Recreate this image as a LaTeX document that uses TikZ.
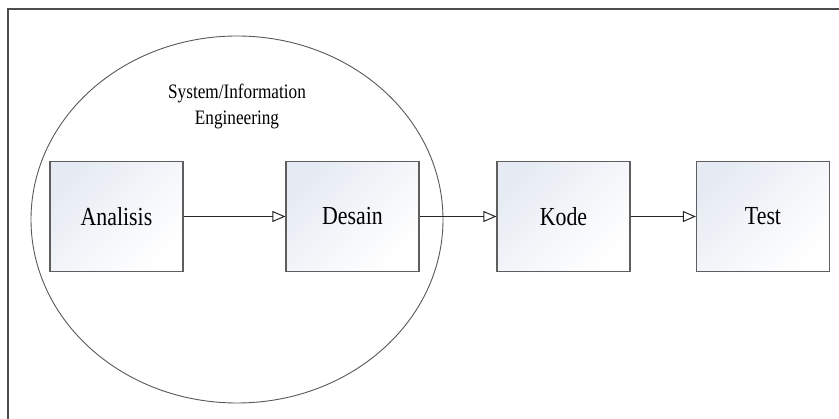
\documentclass[tikz,border=0pt]{standalone}
\usepackage{fontspec}
\setmainfont{Liberation Serif}
\newfontfamily\condserif[FakeStretch=0.84]{Liberation Serif}
\usetikzlibrary{arrows.meta}
\definecolor{boxline}{HTML}{5E5E5E}
\definecolor{boxshade}{HTML}{E6EBF3}
\tikzset{
  stepbox/.style={draw=boxline, line width=1.2pt, minimum width=133pt, minimum height=110pt,
    inner sep=0pt, shading=axis, left color=boxshade, right color=white, shading angle=45,
    font=\condserif\fontsize{26}{30}\selectfont},
  flow/.style={draw=black!85, line width=1pt, -{Triangle[open, length=13pt, width=11pt]}},
}
\begin{document}
\begin{tikzpicture}[x=1pt, y=-1pt]
  \useasboundingbox (0,0) rectangle (839,419);
  \fill[white] (0,0) rectangle (839,419);
  % frame
  \draw[draw=black!70, line width=2pt] (8,419) -- (8,9) -- (839,9);
  % ellipse
  \draw[black!65, line width=0.9pt] (237,219.5) ellipse [x radius=206, y radius=183.5];
  % title
  \node[align=center, font=\condserif\fontsize{20.5}{26}\selectfont] (title) at (237,106) {System/Information\\Engineering};
  % boxes
  \node[stepbox] (analisis) at (116.5,216.5) {Analisis};
  \node[stepbox] (desain) at (352.5,216.5) {Desain};
  \node[stepbox] (kode) at (563.5,216.5) {Kode};
  \node[stepbox] (test) at (763,216.5) {Test};
  % connectors
  \draw[flow] (analisis) -- (desain);
  \draw[flow] (desain) -- (kode);
  \draw[flow] (kode) -- (test);
\end{tikzpicture}
\end{document}
